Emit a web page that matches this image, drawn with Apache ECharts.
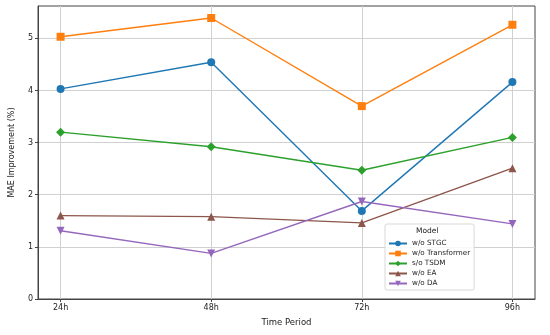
<!DOCTYPE html>
<html><head><meta charset="utf-8">
<script src="https://cdn.jsdelivr.net/npm/echarts@6/dist/echarts.min.js"></script>
<style>html,body{margin:0;padding:0;background:#fff}#c{width:550px;height:335px}</style>
</head><body><div id="c"></div>
<script>
const categories = ['24h', '48h', '72h', '96h'];
const yTicks = [0, 1, 2, 3, 4, 5];
const seriesNames = ['w/o STGC', 'w/o Transformer', 's/o TSDM', 'w/o EA', 'w/o DA'];
const stgc = [4.03, 4.54, 1.69, 4.16];
const transformer = [5.03, 5.39, 3.70, 5.26];
const tsdm = [3.20, 2.92, 2.47, 3.10];
const ea = [1.60, 1.58, 1.46, 2.51];
const da = [1.31, 0.875, 1.87, 1.44];

const values = [stgc, transformer, tsdm, ea, da];
const colors = ['#1f77b4', '#ff7f0e', '#2ca02c', '#8c564b', '#9467bd'];
const symbols = ['circle', 'rect', 'diamond', 'triangle', 'path://M0,0 L10,0 L5,9 Z'];
const sizes = [8, 8, 9, 8, 8];
const font = 'DejaVu Sans';

const chart = echarts.init(document.getElementById('c'));
chart.setOption({
  animation: false,
  backgroundColor: '#fff',
  grid: { left: 36, right: 15, top: 6, bottom: 36, show: true, borderColor: '#444', borderWidth: 1 },
  xAxis: {
    type: 'value', min: -0.15, max: 3.15, interval: 1,
    name: 'Time Period', nameLocation: 'middle', nameGap: 19,
    nameTextStyle: { fontFamily: font, fontSize: 8.5, color: '#222' },
    axisLine: { show: true, onZero: false, lineStyle: { color: '#444' } },
    axisTick: { show: true, length: 3, customValues: [0, 1, 2, 3], lineStyle: { color: '#444' } },
    axisLabel: { customValues: [0, 1, 2, 3], formatter: v => categories[Math.round(v)], fontFamily: font, fontSize: 8, color: '#222', margin: 5 },
    splitLine: { show: true, lineStyle: { color: '#d0d0d0', width: 1 } }
  },
  yAxis: {
    type: 'value', min: 0, max: 5.62, interval: 1,
    name: 'MAE Improvement (%)', nameLocation: 'middle', nameGap: 22,
    nameTextStyle: { fontFamily: font, fontSize: 8, color: '#222' },
    axisLine: { show: true, onZero: false, lineStyle: { color: '#444' } },
    axisTick: { show: true, length: 3, customValues: yTicks, lineStyle: { color: '#444' } },
    axisLabel: { customValues: yTicks, fontFamily: font, fontSize: 8, color: '#222', margin: 5 },
    splitLine: { show: true, lineStyle: { color: '#d0d0d0', width: 1 } }
  },
  legend: {
    orient: 'vertical', left: 385, top: 224,
    padding: [16, 4, 3, 3], itemGap: 3, itemWidth: 18, itemHeight: 7,
    backgroundColor: 'rgba(255,255,255,0.85)', borderColor: '#d8d8d8', borderWidth: 1, borderRadius: 2,
    textStyle: { fontFamily: font, fontSize: 7.2, color: '#222' },
    data: seriesNames
  },
  graphic: [{
    type: 'text', left: 416, top: 227, z: 100,
    style: { text: 'Model', font: '7.5px "DejaVu Sans"', fill: '#222' }
  }],
  series: seriesNames.map((n, i) => ({
    name: n, type: 'line',
    data: values[i].map((v, j) => [j, v]),
    symbol: symbols[i], symbolSize: sizes[i],
    itemStyle: { color: colors[i] },
    lineStyle: { color: colors[i], width: 1.4 }
  }))
});
</script></body></html>
